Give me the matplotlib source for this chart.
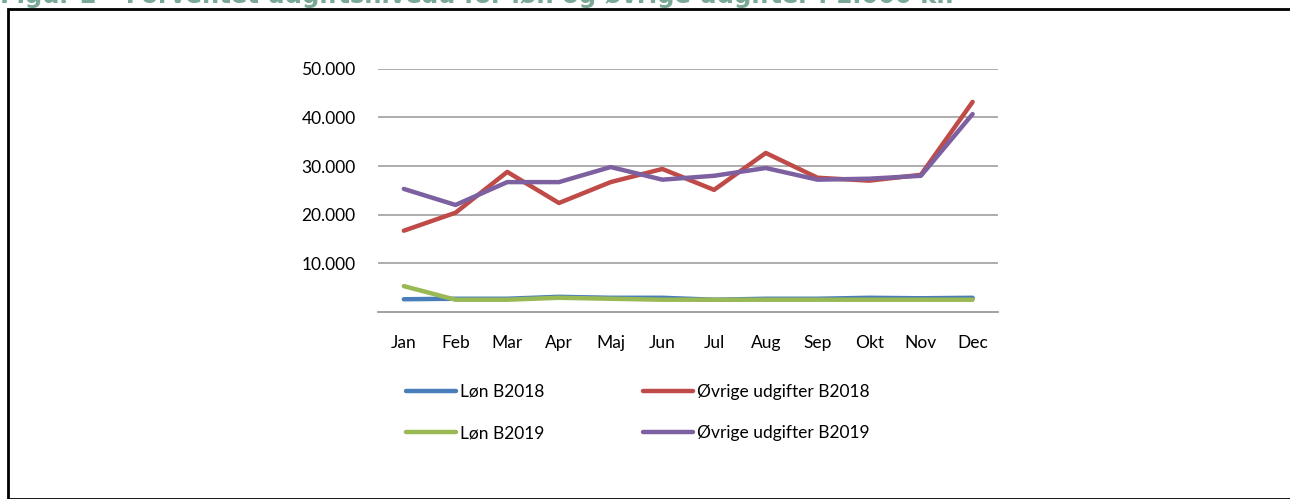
import numpy as np
import matplotlib.pyplot as plt
from matplotlib.patches import Rectangle

months = ["Jan", "Feb", "Mar", "Apr", "Maj", "Jun", "Jul", "Aug", "Sep", "Okt", "Nov", "Dec"]

loen_2018 = [2600, 2700, 2700, 3100, 2900, 2900, 2500, 2700, 2700, 2900, 2800, 2900]
loen_2019 = [5300, 2500, 2500, 2900, 2700, 2500, 2500, 2500, 2500, 2500, 2500, 2500]
oevrige_2018 = [16700, 20400, 28800, 22400, 26700, 29400, 25100, 32700, 27600, 27000, 28200, 43200]
oevrige_2019 = [25300, 22000, 26700, 26700, 29800, 27200, 28000, 29600, 27200, 27400, 28000, 40700]

yticks = [10000, 20000, 30000, 40000, 50000]
ytick_labels = ["10.000", "20.000", "30.000", "40.000", "50.000"]

plt.rcParams['font.family'] = ['Lato', 'DejaVu Sans']

fig = plt.figure(figsize=(12.9, 4.99), dpi=100)
ax = fig.add_axes([0.293, 0.375, 0.481, 0.487])

x = np.arange(len(months))
lw = 3.2
l18, = ax.plot(x, loen_2018, color='#4a7ebb', lw=lw, label='Løn B2018', solid_capstyle='round')
o18, = ax.plot(x, oevrige_2018, color='#be4b48', lw=lw, label='Øvrige udgifter B2018', solid_capstyle='round')
l19, = ax.plot(x, loen_2019, color='#98b954', lw=lw, label='Løn B2019', solid_capstyle='round')
o19, = ax.plot(x, oevrige_2019, color='#7d60a0', lw=lw, label='Øvrige udgifter B2019', solid_capstyle='round')

ax.set_xlim(-0.5, 11.5)
ax.set_ylim(0, 50000)
ax.set_xticks(x)
ax.set_xticklabels(months, fontsize=12.5)
ax.set_yticks(yticks)
ax.set_yticklabels(ytick_labels, fontsize=12.5)
ax.tick_params(axis='x', length=0, pad=17)
ax.tick_params(axis='y', length=0, pad=16)
ax.yaxis.grid(True, color='#a0a0a0', lw=1.2)
ax.set_axisbelow(True)
for s in ['top', 'right', 'left']:
    ax.spines[s].set_visible(False)
ax.spines['bottom'].set_color('#909090')
ax.spines['bottom'].set_linewidth(1.2)

# column-major fill -> reorder so rows read 2018, 2019
handles = [l18, l19, o18, o19]
labels = [h.get_label() for h in handles]
fig.legend(handles, labels, ncol=2, loc='upper left', bbox_to_anchor=(0.3025, 0.262),
           frameon=False, fontsize=12.5, handlelength=2.9, handletextpad=0.2,
           columnspacing=5.7, labelspacing=1.45)

# frame around the figure box
fig.add_artist(Rectangle((8 / 1290, 0), 1.0, 1 - 9 / 499, transform=fig.transFigure,
                         fill=False, edgecolor='black', lw=2))

fig.text(0.0, 1.008, "Figur 2 \u2013 Forventet udgiftsniveau for løn og øvrige udgifter i 1.000 kr.",
         fontsize=17.5, fontweight='bold', color='#7aa896', va='center', ha='left',
         family='DejaVu Sans')

fig.savefig("out.png", dpi=100)
